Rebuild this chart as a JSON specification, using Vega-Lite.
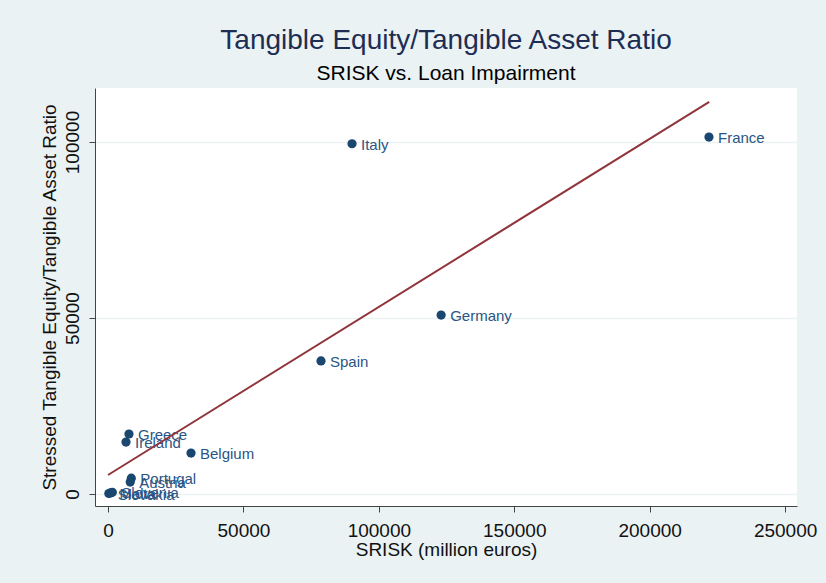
{
  "$schema": "https://vega.github.io/schema/vega-lite/v6.json",
  "width": 702,
  "height": 418,
  "autosize": {"type": "none"},
  "padding": {"left": 95, "top": 88, "right": 29, "bottom": 77},
  "background": "#eaf2f3",
  "config": {
    "font": "Liberation Sans",
    "view": {"fill": "white", "stroke": null}
  },
  "title": {
    "text": "Tangible Equity/Tangible Asset Ratio",
    "subtitle": "SRISK vs. Loan Impairment",
    "anchor": "middle",
    "fontSize": 28,
    "fontWeight": "normal",
    "color": "#1e2d53",
    "subtitleFontSize": 21,
    "subtitleColor": "#000000",
    "offset": 4,
    "subtitlePadding": 8
  },
  "datasets": {
    "points": [
      {"country": "France", "srisk": 221900, "ratio": 101400},
      {"country": "Italy", "srisk": 90100, "ratio": 99500},
      {"country": "Germany", "srisk": 123000, "ratio": 50850},
      {"country": "Spain", "srisk": 78650, "ratio": 37800},
      {"country": "Belgium", "srisk": 30650, "ratio": 11650},
      {"country": "Greece", "srisk": 7750, "ratio": 17050},
      {"country": "Ireland", "srisk": 6650, "ratio": 14770},
      {"country": "Portugal", "srisk": 8600, "ratio": 4500},
      {"country": "Austria", "srisk": 8200, "ratio": 3400},
      {"country": "Slovakia", "srisk": 300, "ratio": 150},
      {"country": "Malta", "srisk": 900, "ratio": 300},
      {"country": "Slovenia", "srisk": 1600, "ratio": 500}
    ],
    "fit": [
      {"srisk": 0, "ratio": 5400},
      {"srisk": 222000, "ratio": 111400}
    ]
  },
  "encoding": {
    "x": {
      "field": "srisk",
      "type": "quantitative",
      "scale": {"domain": [-4800, 254400], "nice": false, "zero": false},
      "axis": {
        "title": "SRISK (million euros)",
        "values": [0, 50000, 100000, 150000, 200000, 250000],
        "format": "d",
        "grid": false,
        "labelFontSize": 19,
        "titleFontSize": 19,
        "titleFontWeight": "normal",
        "labelColor": "#111111",
        "titleColor": "#111111",
        "tickSize": 6,
        "tickColor": "#444444",
        "domainColor": "#444444",
        "labelPadding": 9,
        "titlePadding": 0,
        "labelFlush": false,
        "labelOverlap": false
      }
    },
    "y": {
      "field": "ratio",
      "type": "quantitative",
      "scale": {"domain": [-3400, 115340], "nice": false, "zero": false},
      "axis": {
        "title": "Stressed Tangible Equity/Tangible Asset Ratio",
        "values": [0, 50000, 100000],
        "format": "d",
        "grid": true,
        "gridColor": "#eaf2f3",
        "gridWidth": 1.5,
        "labelAngle": -90,
        "labelAlign": "center",
        "labelBaseline": "alphabetic",
        "labelFontSize": 19,
        "titleFontSize": 19,
        "titleFontWeight": "normal",
        "labelColor": "#111111",
        "titleColor": "#111111",
        "tickSize": 6,
        "tickColor": "#444444",
        "domainColor": "#444444",
        "labelPadding": 11,
        "titlePadding": 4,
        "labelFlush": false,
        "labelOverlap": false
      }
    }
  },
  "layer": [
    {
      "data": {"name": "points"},
      "mark": {"type": "point", "filled": true, "size": 85, "color": "#1a476f", "opacity": 1}
    },
    {
      "data": {"name": "points"},
      "mark": {"type": "text", "align": "left", "baseline": "middle", "dx": 9, "dy": 1, "fontSize": 15, "color": "#2a5584"},
      "encoding": {"text": {"field": "country", "type": "nominal"}}
    },
    {
      "data": {"name": "fit"},
      "mark": {"type": "line", "color": "#90353b", "strokeWidth": 2}
    }
  ]
}
